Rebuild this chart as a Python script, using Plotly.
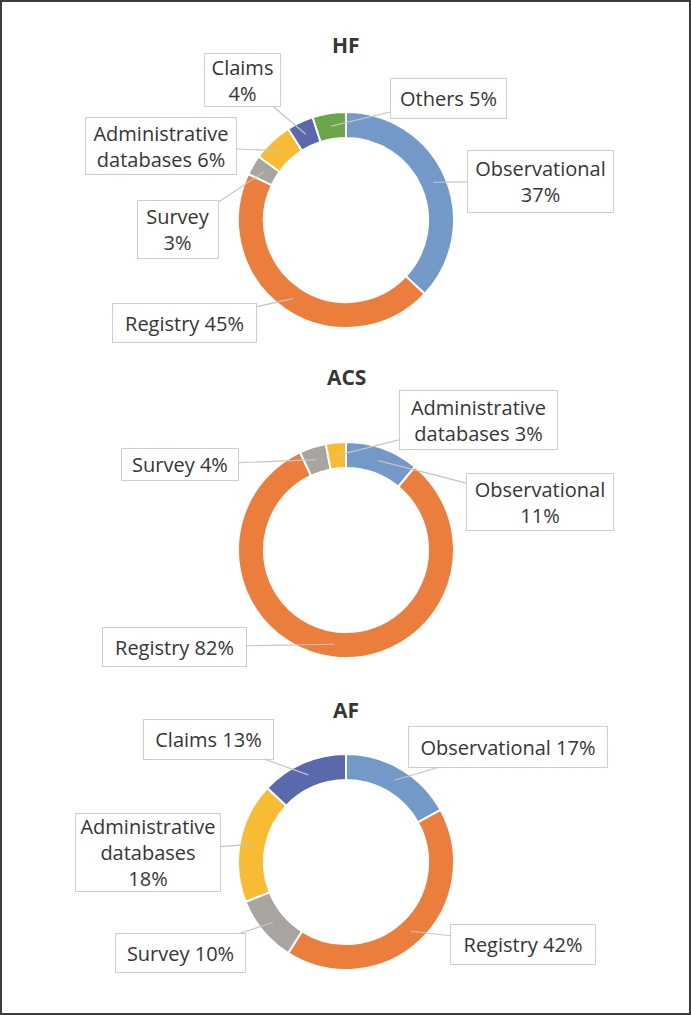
import math
import plotly.graph_objects as go

W, H = 691, 1015

# ---------------- data ----------------
titles = ["HF", "ACS", "AF"]

hf_categories = ["Observational", "Registry", "Survey", "Administrative databases", "Claims", "Others"]
hf_values = [37, 45, 3, 6, 4, 5]

acs_categories = ["Observational", "Registry", "Survey", "Administrative databases"]
acs_values = [11, 82, 4, 3]

af_categories = ["Observational", "Registry", "Survey", "Administrative databases", "Claims"]
af_values = [17, 42, 10, 18, 13]

colors = {
    "Observational": "#7399C8",
    "Registry": "#EB7E3C",
    "Survey": "#A8A4A0",
    "Administrative databases": "#F8BB34",
    "Claims": "#5A69AC",
    "Others": "#6BA64A",
}

# ---------------- layout (pixel positions) ----------------
centers = [(346, 220), (346, 550), (346, 862)]
title_y = [45, 377, 710]
R_OUT = 108
HOLE = 0.76
R_ANCHOR = 95

# label box: (center x, center y, width, height, text style)
boxes = [
    {
        "Observational": (540, 181, 147, 63, "two"),
        "Registry": (184, 323, 145, 40, "one"),
        "Survey": (178, 229, 82, 59, "two"),
        "Administrative databases": (161, 146, 152, 58, "split"),
        "Claims": (242, 80, 77, 54, "two"),
        "Others": (448, 98, 117, 41, "one"),
    },
    {
        "Observational": (540, 502, 148, 58, "two"),
        "Registry": (174, 647, 145, 40, "one"),
        "Survey": (180, 465, 118, 33, "one"),
        "Administrative databases": (478, 420, 159, 60, "split"),
    },
    {
        "Observational": (508, 747, 200, 42, "one"),
        "Registry": (523, 944, 146, 41, "one"),
        "Survey": (180, 953, 131, 40, "one"),
        "Administrative databases": (148, 852, 146, 79, "split2"),
        "Claims": (208, 739, 131, 41, "one"),
    },
]


def label_text(name, v, style):
    if style == "one":
        return f"{name} {v}%"
    if style == "two":
        return f"{name}<br>{v}%"
    words = name.split(" ")
    if style == "split":
        return "<br>".join(words) + f" {v}%"
    return "<br>".join(words) + f"<br>{v}%"


FONT = "Open Sans, Noto Sans, sans-serif"
TEXT_COLOR = "#363636"

fig = go.Figure()
annotations = []

datasets = [(hf_categories, hf_values), (acs_categories, acs_values), (af_categories, af_values)]

for i, (cats, vals) in enumerate(datasets):
    cx, cy = centers[i]
    fig.add_trace(go.Pie(
        labels=cats,
        values=vals,
        hole=HOLE,
        sort=False,
        direction="clockwise",
        rotation=0,
        textinfo="none",
        hoverinfo="label+percent",
        showlegend=False,
        marker=dict(colors=[colors[c] for c in cats], line=dict(color="white", width=2)),
        domain=dict(
            x=[(cx - R_OUT) / W, (cx + R_OUT) / W],
            y=[1 - (cy + R_OUT) / H, 1 - (cy - R_OUT) / H],
        ),
    ))

    # title
    annotations.append(dict(
        text=f"<b>{titles[i]}</b>", x=cx / W, y=1 - title_y[i] / H,
        xref="paper", yref="paper", showarrow=False,
        font=dict(family=FONT, size=21, color=TEXT_COLOR),
        xanchor="center", yanchor="middle",
    ))

    total = sum(vals)
    cum = 0
    for c, v in zip(cats, vals):
        mid = (cum + v / 2) / total * 2 * math.pi
        cum += v
        axp = cx + R_ANCHOR * math.sin(mid)
        ayp = cy - R_ANCHOR * math.cos(mid)
        bx, by, bw, bh, style = boxes[i][c]
        annotations.append(dict(
            text=label_text(c, v, style),
            x=axp / W, y=1 - ayp / H, xref="paper", yref="paper",
            showarrow=True, arrowhead=0, arrowwidth=1.2, arrowcolor="#C8C4C0",
            axref="pixel", ayref="pixel",
            ax=bx - axp, ay=by - ayp,
            width=bw - 2, height=bh - 2,
            bgcolor="white", bordercolor="#D2CECA", borderwidth=1, borderpad=0,
            font=dict(family=FONT, size=20, color=TEXT_COLOR),
            align="center", valign="middle",
        ))

fig.update_layout(
    width=W, height=H,
    margin=dict(l=0, r=0, t=0, b=0),
    paper_bgcolor="white",
    plot_bgcolor="white",
    annotations=annotations,
    shapes=[dict(type="rect", xref="paper", yref="paper",
                 x0=1 / W, x1=1 - 1 / W, y0=1 / H, y1=1 - 1 / H,
                 line=dict(color="#3C3C3C", width=2))],
)

fig.write_html(
    "out.html",
    config={"displayModeBar": False},
    post_script="document.body.style.margin='0';document.body.style.padding='0';",
)
